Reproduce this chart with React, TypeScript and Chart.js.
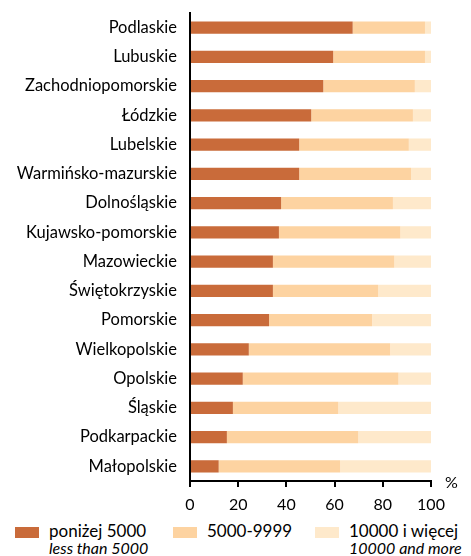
import React, { useEffect, useRef } from "react";
import { Chart, registerables } from "chart.js";

Chart.register(...registerables);

const categories = [
  "Podlaskie",
  "Lubuskie",
  "Zachodniopomorskie",
  "Łódzkie",
  "Lubelskie",
  "Warmińsko-mazurskie",
  "Dolnośląskie",
  "Kujawsko-pomorskie",
  "Mazowieckie",
  "Świętokrzyskie",
  "Pomorskie",
  "Wielkopolskie",
  "Opolskie",
  "Śląskie",
  "Podkarpackie",
  "Małopolskie",
];

const below5000 = [67.5, 59.4, 55.3, 50.3, 45.3, 45.3, 37.8, 36.9, 34.4, 34.4, 32.8, 24.4, 21.9, 17.8, 15.3, 11.9];
const from5000to9999 = [30.0, 38.1, 38.0, 42.2, 45.5, 46.4, 46.4, 50.4, 50.4, 43.7, 42.8, 58.7, 64.6, 43.7, 54.5, 50.4];
const above10000 = [2.5, 2.5, 6.7, 7.5, 9.2, 8.3, 15.8, 12.7, 15.2, 21.9, 24.4, 16.9, 13.5, 38.5, 30.2, 37.7];

const xTicks = [0, 20, 40, 60, 80, 100];

const seriesLabels = ["poniżej 5000", "5000-9999", "10000 i więcej"];
const seriesLabelsEn = ["less than 5000", "", "10000 and more"];
const colors = ["#C96B3A", "#FDD3A1", "#FEE9CB"];

const FONT = "Lato, 'Open Sans', sans-serif";

export default function App() {
  const ref = useRef<HTMLCanvasElement | null>(null);

  useEffect(() => {
    if (!ref.current) return;
    const percentPlugin = {
      id: "percentLabel",
      afterDraw(chart: any) {
        const ctx = chart.ctx;
        const x = chart.scales.x;
        ctx.save();
        ctx.fillStyle = "#000";
        ctx.font = `16px ${FONT}`;
        ctx.textAlign = "left";
        ctx.textBaseline = "middle";
        ctx.fillText("%", x.right + 14, x.top + 2);
        ctx.restore();
      },
    };
    const chart = new Chart(ref.current, {
      type: "bar",
      data: {
        labels: categories,
        datasets: [
          { label: seriesLabels[0], data: below5000, backgroundColor: colors[0] },
          { label: seriesLabels[1], data: from5000to9999, backgroundColor: colors[1] },
          { label: seriesLabels[2], data: above10000, backgroundColor: colors[2] },
        ],
      },
      options: {
        indexAxis: "y",
        animation: false,
        responsive: false,
        maintainAspectRatio: false,
        layout: { padding: { top: 13, right: 40, left: 0, bottom: 0 } },
        datasets: { bar: { categoryPercentage: 1, barPercentage: 0.42 } },
        plugins: { legend: { display: false }, tooltip: { enabled: false } },
        scales: {
          x: {
            stacked: true,
            min: 0,
            max: 100,
            afterBuildTicks: (s: any) => {
              s.ticks = xTicks.map((v) => ({ value: v }));
            },
            afterFit: (s: any) => {
              s.height = 39;
              s.paddingLeft = 0;
              s.paddingRight = 0;
            },
            grid: { display: true, drawOnChartArea: false, tickLength: 6, color: "#000", lineWidth: 2 },
            border: { display: true, color: "#000", width: 2 },
            ticks: { color: "#000", font: { family: FONT, size: 16 }, padding: 8 },
          },
          y: {
            stacked: true,
            afterFit: (s: any) => {
              s.width = 190;
              s.paddingTop = 0;
              s.paddingBottom = 0;
            },
            grid: { display: false },
            border: { display: true, color: "#000", width: 2 },
            ticks: { color: "#000", font: { family: FONT, size: 16.5 }, padding: 5, autoSkip: false },
          },
        },
      },
      plugins: [percentPlugin],
    });
    return () => chart.destroy();
  }, []);

  const legendX = [15, 173, 315];
  const textX = [49, 207, 349];

  return (
    <div style={{ position: "absolute", left: 0, top: 0, width: 471, height: 556, background: "#fff", fontFamily: FONT }}>
      <canvas ref={ref} width={471} height={520} style={{ position: "absolute", left: 0, top: 0 }} />
      {seriesLabels.map((l, i) => (
        <React.Fragment key={l}>
          <div
            style={{
              position: "absolute",
              left: legendX[i],
              top: 527,
              width: 24,
              height: 11,
              background: colors[i],
            }}
          />
          <div
            style={{
              position: "absolute",
              left: textX[i],
              top: 522,
              fontSize: 17,
              lineHeight: "18px",
              color: "#000",
              whiteSpace: "nowrap",
            }}
          >
            {l}
          </div>
          {seriesLabelsEn[i] ? (
            <div
              style={{
                position: "absolute",
                left: textX[i],
                top: 539,
                fontSize: 16,
                lineHeight: "17px",
                fontStyle: "italic",
                color: "#000",
                whiteSpace: "nowrap",
              }}
            >
              {seriesLabelsEn[i]}
            </div>
          ) : null}
        </React.Fragment>
      ))}
    </div>
  );
}
